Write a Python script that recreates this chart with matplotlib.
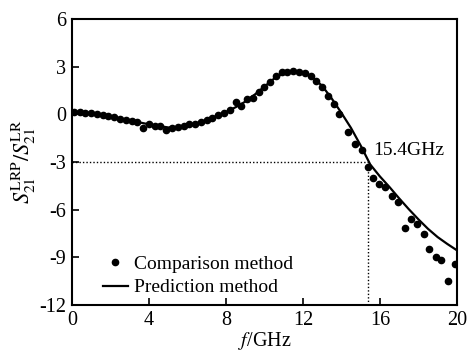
import matplotlib
matplotlib.use("Agg")
import matplotlib.pyplot as plt
from matplotlib.lines import Line2D

plt.rcParams['font.family'] = ['Liberation Serif', 'DejaVu Serif']
plt.rcParams['mathtext.fontset'] = 'stix'
plt.rcParams['axes.unicode_minus'] = False

# Prediction method curve (GHz, ratio)
pred_f = [0, 0.5, 1, 1.5, 2, 2.5, 3, 3.5, 4, 4.5, 5, 5.5, 6, 6.5, 7, 7.5, 8, 8.5, 9, 9.5,
          10, 10.5, 11, 11.5, 12, 12.5, 13, 13.5, 14, 14.5, 15, 15.5, 16, 16.5, 17, 17.5,
          18, 18.5, 19, 19.5, 20]
pred_s = [0.1, 0.12, 0.08, 0.0, -0.12, -0.25, -0.38, -0.5, -0.62, -0.72, -0.82, -0.8, -0.7,
          -0.55, -0.35, -0.1, 0.15, 0.45, 0.8, 1.25, 1.75, 2.25, 2.6, 2.72, 2.65, 2.35, 1.8,
          1.0, 0.1, -0.85, -1.95, -3.15, -3.9, -4.57, -5.28, -5.96, -6.6, -7.2, -7.72, -8.15,
          -8.55]

# Comparison method points
comp_f = [0.1, 0.4, 0.7, 1.0, 1.3, 1.6, 1.9, 2.2, 2.5, 2.8, 3.1, 3.4, 3.7, 4.0, 4.3, 4.6,
          4.9, 5.2, 5.5, 5.8, 6.1, 6.4, 6.7, 7.0, 7.3, 7.6, 7.9, 8.2, 8.5, 8.8, 9.1, 9.4,
          9.7, 10.0, 10.3, 10.6, 10.9, 11.2, 11.5, 11.8, 12.1, 12.4, 12.7, 13.0, 13.3, 13.6,
          13.9, 14.35, 14.7, 15.05, 15.36, 15.62, 15.96, 16.26, 16.64, 16.95, 17.3, 17.6,
          17.94, 18.29, 18.56, 18.9, 19.2, 19.55, 19.9]
comp_s = [0.15, 0.18, 0.12, 0.1, 0.02, -0.02, -0.1, -0.15, -0.28, -0.32, -0.42, -0.5, -0.85,
          -0.6, -0.7, -0.75, -0.95, -0.85, -0.82, -0.75, -0.62, -0.6, -0.45, -0.35, -0.2,
          -0.05, 0.1, 0.25, 0.8, 0.55, 0.95, 1.05, 1.4, 1.7, 2.05, 2.4, 2.65, 2.7, 2.72, 2.7,
          2.6, 2.45, 2.1, 1.7, 1.15, 0.65, 0.0, -1.1, -1.84, -2.26, -3.3, -3.98, -4.4, -4.57,
          -5.16, -5.5, -7.13, -6.56, -6.87, -7.5, -8.45, -8.97, -9.14, -10.48, -9.43]

cutoff_f = 15.4
cutoff_s = -3
cutoff_label = "15.4GHz"

xticks = [0, 4, 8, 12, 16, 20]
yticks = [-12, -9, -6, -3, 0, 3, 6]

fig = plt.figure(figsize=(4.70, 3.61), dpi=100)
ax = fig.add_axes([0.153, 0.155, 0.819, 0.792])

ax.plot([0, cutoff_f], [cutoff_s, cutoff_s], color='black', lw=1.0, linestyle=(0, (1, 1.5)))
ax.plot([cutoff_f, cutoff_f], [-12, cutoff_s], color='black', lw=1.0, linestyle=(0, (1, 1.5)))
ax.plot(comp_f, comp_s, 'o', color='black', markersize=4.5, zorder=3)
ax.plot(pred_f, pred_s, '-', color='black', lw=1.6, zorder=4)
ax.text(15.65, -2.3, cutoff_label, fontsize=14, va='center', ha='left')

ax.set_xlim(0, 20)
ax.set_ylim(-12, 6)
ax.set_xticks(xticks)
ax.set_yticks(yticks)
ax.tick_params(direction='in', length=5, width=1.2, labelsize=14.5, top=False, right=False,
               pad=4)
for sp in ax.spines.values():
    sp.set_linewidth(1.5)

ax.set_xlabel(r'$f$/GHz', fontsize=14.5, labelpad=0)
ax.set_ylabel(r'$S_{21}^{\mathrm{LRP}}/S_{21}^{\mathrm{LR}}$', fontsize=16, labelpad=1)

handles = [Line2D([], [], marker='o', color='black', linestyle='None', markersize=4.5),
           Line2D([], [], color='black', lw=1.6)]
ax.legend(handles, ['Comparison method', 'Prediction method'], loc='lower left',
          bbox_to_anchor=(0.08, 0.03), frameon=False, fontsize=14, handlelength=1.3,
          handletextpad=0.3, borderpad=0, borderaxespad=0, labelspacing=0.3)

fig.savefig('out.png', dpi=100)
